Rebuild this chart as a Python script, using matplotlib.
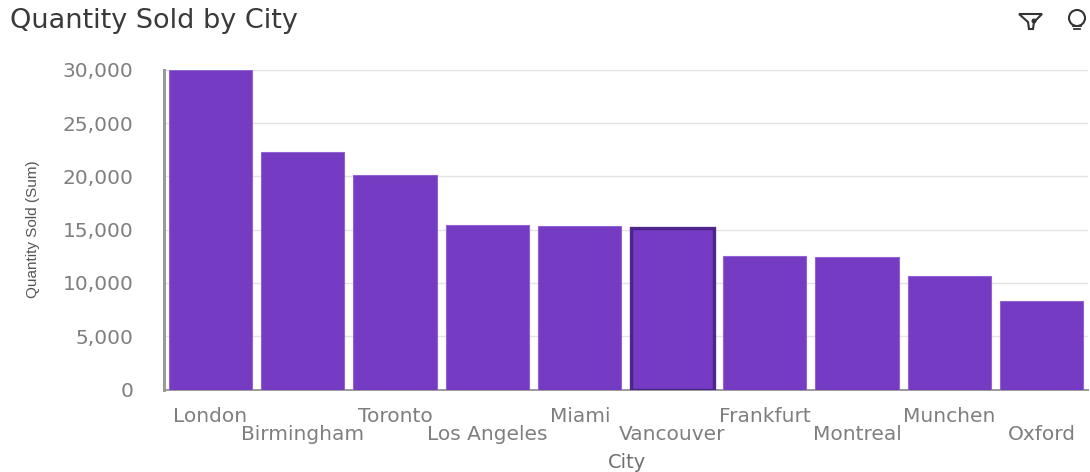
import matplotlib
matplotlib.use('Agg')
import matplotlib.pyplot as plt
from matplotlib.patches import Circle, Polygon
from matplotlib.lines import Line2D

cities = ['London', 'Birmingham', 'Toronto', 'Los Angeles', 'Miami',
          'Vancouver', 'Frankfurt', 'Montreal', 'Munchen', 'Oxford']
quantity = [30000, 22300, 20100, 15400, 15350, 15200, 12550, 12450, 10700, 8350]
y_ticks = [0, 5000, 10000, 15000, 20000, 25000, 30000]

W, H = 1090, 472
plt.rcParams['font.family'] = ['DejaVu Sans']

fig = plt.figure(figsize=(W / 100, H / 100), dpi=100)
ax = fig.add_axes([164 / W, 1 - 389.5 / H, 924 / W, 319.5 / H])

bars = ax.bar(range(len(cities)), quantity, width=0.9, color='#6f33c1', alpha=0.96,
              edgecolor='#8f62d2', linewidth=0.8, zorder=3)
# the selected bar has a dark outline
bars[5].set_edgecolor('#4a2088')
bars[5].set_linewidth(2.4)

ax.set_xlim(-0.5, 9.5)
ax.set_ylim(0, 30000)
ax.set_yticks(y_ticks)
ax.set_yticklabels([f'{v:,}' for v in y_ticks], fontsize=14.5, color='#7f7f7f')
ax.grid(axis='y', color='#e4e4e4', linewidth=1, zorder=0)
ax.tick_params(axis='y', length=0, pad=22)
ax.tick_params(axis='x', length=0, pad=0)

ax.set_xticks(range(len(cities)))
ax.set_xticklabels(cities, fontsize=14.5, color='#7f7f7f')
# staggered labels, every second one drops a row
for i, t in enumerate(ax.get_xticklabels()):
    t.set_y(-0.084 if i % 2 == 0 else -0.14)
    t.set_va('center')

for s in ['top', 'right']:
    ax.spines[s].set_visible(False)
ax.spines['left'].set_color('#9a9a9a')
ax.spines['left'].set_linewidth(2.2)
ax.spines['bottom'].set_color('#9a9a9a')
ax.spines['bottom'].set_linewidth(1.4)

fig.text(627 / W, 1 - 462 / H, 'City', fontsize=14, color='#6f6f6f', ha='center', va='center')
fig.text(33 / W, 1 - 229 / H, 'Quantity Sold (Sum)', fontsize=11, color='#555555', rotation=90,
         ha='center', va='center', family=['Liberation Sans Narrow', 'Liberation Sans'])
fig.text(10 / W, 1 - 21 / H, 'Quantity Sold by City', fontsize=19.5, color='#3a3a3a',
         ha='left', va='center')

# toolbar icons, drawn in pixel coords
overlay = fig.add_axes([0, 0, 1, 1])
overlay.set_xlim(0, W)
overlay.set_ylim(H, 0)
overlay.axis('off')
overlay.patch.set_alpha(0)
overlay.add_patch(Polygon([(1019, 14), (1042, 14), (1034, 22), (1033, 29), (1029, 29), (1028, 22)],
                          closed=True, fill=False, edgecolor='#333333', linewidth=1.5))
overlay.add_patch(Circle((1034, 21), 1.8, color='#333333'))
overlay.add_patch(Circle((1077, 18), 8, fill=False, edgecolor='#333333', linewidth=1.5))
overlay.add_line(Line2D([1073, 1081], [26, 26], color='#333333', linewidth=1.3))
overlay.add_line(Line2D([1074, 1080], [29, 29], color='#333333', linewidth=1.3))

fig.savefig('out.png', dpi=100)
